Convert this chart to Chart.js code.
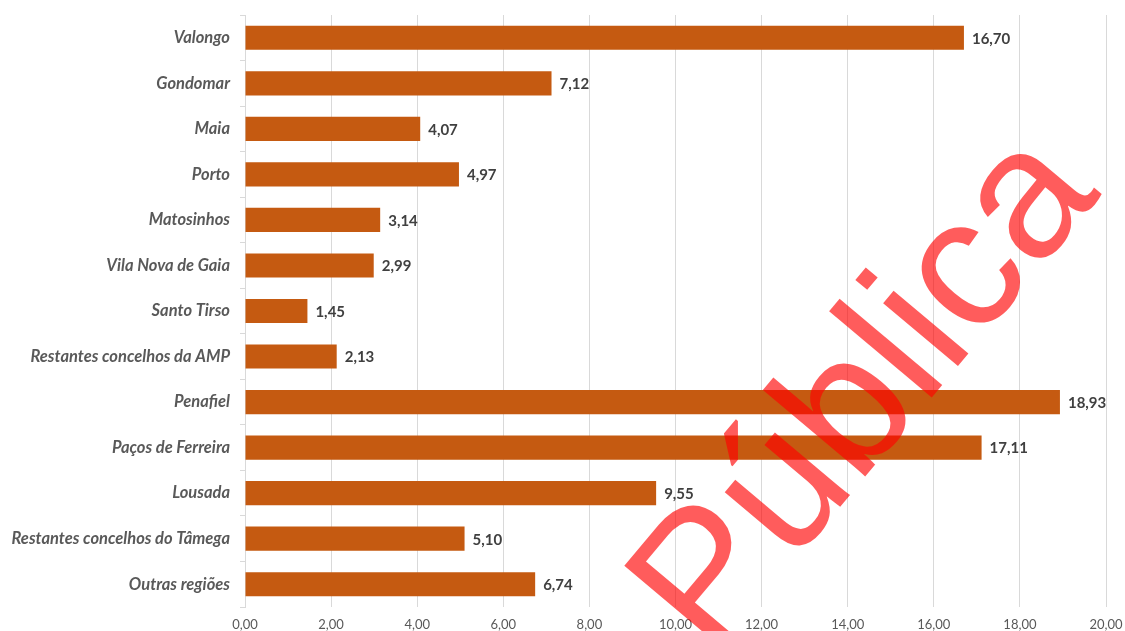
<!DOCTYPE html>
<html>
<head>
<meta charset="utf-8">
<script src="https://cdn.jsdelivr.net/npm/chart.js@4.4.1/dist/chart.umd.min.js"></script>
<style>
html,body{margin:0;padding:0;background:#fff;}
#wrap{width:1125px;height:631px;position:relative;}
</style>
</head>
<body>
<div id="wrap"><canvas id="c" width="1125" height="631"></canvas></div>
<script>
const categories = ['Valongo','Gondomar','Maia','Porto','Matosinhos','Vila Nova de Gaia','Santo Tirso','Restantes concelhos da AMP','Penafiel','Paços de Ferreira','Lousada','Restantes concelhos do Tâmega','Outras regiões'];
const values = [16.70,7.12,4.07,4.97,3.14,2.99,1.45,2.13,18.93,17.11,9.55,5.10,6.74];
const xTicks = [0,2,4,6,8,10,12,14,16,18,20];
const watermark = 'Pública';

const fmt = v => v.toFixed(2).replace('.', ',');

const labelPlugin = {
  id: 'valueLabels',
  afterDatasetsDraw(chart) {
    const ctx = chart.ctx;
    const meta = chart.getDatasetMeta(0);
    ctx.save();
    ctx.font = 'bold 15px Lato';
    ctx.fillStyle = '#404040';
    ctx.textAlign = 'left';
    ctx.textBaseline = 'middle';
    meta.data.forEach((bar, i) => {
      ctx.fillText(fmt(values[i]), bar.x + 8, bar.y + 1);
    });
    ctx.restore();
  }
};

const wmPlugin = {
  id: 'watermark',
  afterDraw(chart) {
    const ctx = chart.ctx;
    ctx.save();
    ctx.translate(868, 394);
    ctx.rotate(-50 * Math.PI / 180);
    ctx.font = '185px "Liberation Sans"';
    ctx.fillStyle = 'rgba(255,0,0,0.64)';
    ctx.textAlign = 'center';
    ctx.textBaseline = 'middle';
    ctx.fillText(watermark, 0, 0);
    ctx.restore();
  }
};

new Chart(document.getElementById('c'), {
  type: 'bar',
  data: {
    labels: categories,
    datasets: [{
      data: values,
      backgroundColor: '#C55A11',
      barPercentage: 0.53,
      categoryPercentage: 1.0
    }]
  },
  options: {
    indexAxis: 'y',
    responsive: false,
    animation: false,
    devicePixelRatio: 1,
    layout: { padding: { top: 15, right: 19, left: 0, bottom: 0 } },
    plugins: { legend: { display: false }, tooltip: { enabled: false } },
    scales: {
      x: {
        min: 0, max: 20,
        afterBuildTicks(scale) { scale.ticks = xTicks.map(v => ({ value: v })); },
        afterFit(scale) { scale.height = 24; scale.paddingLeft = 0; scale.paddingRight = 0; },
        grid: { color: '#d9d9d9', drawTicks: false, lineWidth: 1 },
        border: { display: false },
        ticks: {
          padding: 10,
          color: '#595959',
          font: { family: 'Lato', size: 13 },
          callback: v => fmt(v)
        }
      },
      y: {
        afterFit(scale) { scale.width = 245; scale.paddingTop = 0; scale.paddingBottom = 0; },
        grid: { drawOnChartArea: false, drawTicks: true, tickLength: 5, color: '#d9d9d9' },
        border: { display: true, color: '#d9d9d9' },
        ticks: {
          padding: 10,
          color: '#595959',
          font: { family: 'Lato', size: 16.5, weight: 'bold', style: 'italic' }
        }
      }
    }
  },
  plugins: [labelPlugin, wmPlugin]
});
</script>
</body>
</html>
